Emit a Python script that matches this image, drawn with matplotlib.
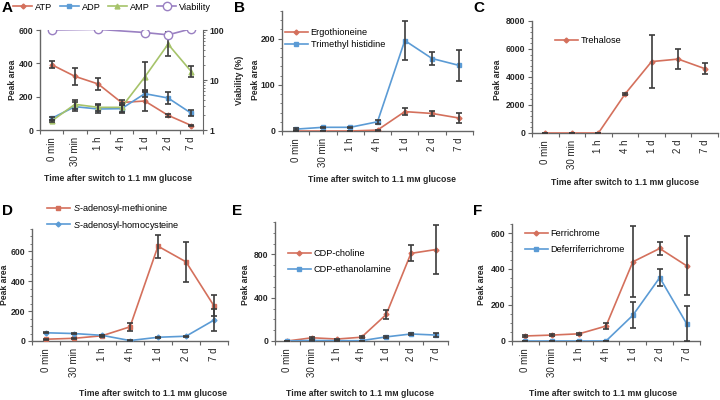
import matplotlib
matplotlib.use("Agg")
import matplotlib.pyplot as plt
from matplotlib.ticker import MultipleLocator, FixedLocator, NullFormatter, LogLocator
import numpy as np

plt.rcParams['font.family'] = ['Liberation Sans', 'DejaVu Sans']
plt.rcParams['font.size'] = 7
plt.rcParams['mathtext.fontset'] = 'custom'
plt.rcParams['mathtext.it'] = 'Liberation Sans:italic'
plt.rcParams['mathtext.rm'] = 'Liberation Sans'

times = ["0 min", "30 min", "1 h", "4 h", "1 d", "2 d", "7 d"]
xlabel_text = "Time after switch to 1.1 mᴍ glucose"

# Panel A
atp = [392, 322, 276, 165, 174, 88, 27]
atp_err = [20, 52, 37, 14, 60, 10, 4]
adp = [70, 140, 126, 128, 218, 192, 100]
adp_err = [9, 26, 22, 25, 20, 38, 18]
amp = [54, 154, 136, 136, 318, 515, 350]
amp_err = [6, 26, 22, 25, 92, 70, 33]
viab_idx = [0, 2, 4, 5, 6]
viability = [100, 103, 89, 80, 106]

# Panel B
ergo = [0, 0, 0, 2, 42, 38, 28]
ergo_err = [0.5, 0.5, 0.5, 1, 8, 6, 10]
tmh = [4, 8, 8, 20, 196, 157, 142]
tmh_err = [1.5, 1.5, 1.5, 4, 43, 15, 34]

# Panel C
trehalose = [0, 0, 0, 2780, 5100, 5280, 4600]
trehalose_err = [20, 20, 20, 80, 1900, 700, 420]

# Panel D
sam = [12, 18, 35, 95, 635, 530, 235]
sam_err = [3, 4, 5, 28, 78, 135, 70]
sah = [55, 50, 38, 3, 25, 32, 140]
sah_err = [4, 4, 4, 1, 3, 4, 75]

# Panel E
cdp_cho = [0, 30, 18, 35, 245, 810, 845]
cdp_cho_err = [3, 8, 5, 10, 45, 75, 230]
cdp_eth = [0, 5, 3, 3, 38, 65, 55]
cdp_eth_err = [1, 2, 1, 1, 6, 8, 15]

# Panel F
ferri = [28, 33, 40, 83, 440, 514, 418]
ferri_err = [4, 6, 7, 15, 198, 36, 163]
deferri = [0, 0, 0, 0, 143, 352, 97]
deferri_err = [1, 1, 1, 1, 72, 47, 96]

red = '#d4705c'
blue = '#5b9bd5'
green = '#a6c36a'
purple = '#9a80c2'
ecol = '#3c3c3c'
axcol = '#666666'
txtcol = '#262626'
fs_xtick = 7
fs_ytick = 6.2
fs_lab = 6.2
fs_leg = 6.6
W, H = 720, 400

fig = plt.figure(figsize=(7.2, 4), dpi=100)


def make_axes(l, r, t, b, ymax, major, minor=None):
    ax = fig.add_axes([l / W, 1 - b / H, (r - l) / W, (b - t) / H])
    ax.set_xlim(-0.5, 6.5)
    ax.set_ylim(0, ymax)
    for s in ['top', 'right']:
        ax.spines[s].set_visible(False)
    for s in ['left', 'bottom']:
        ax.spines[s].set_color(axcol)
        ax.spines[s].set_linewidth(1)
    ax.xaxis.set_major_locator(FixedLocator(np.arange(-0.5, 7, 1)))
    ax.xaxis.set_major_formatter(NullFormatter())
    ax.xaxis.set_minor_locator(FixedLocator(np.arange(7)))
    ax.set_xticklabels(times, minor=True, rotation=90)
    ax.tick_params(axis='x', which='major', length=3, color=axcol, direction='out')
    ax.tick_params(axis='x', which='minor', length=0, pad=5, labelsize=fs_xtick,
                   labelcolor=txtcol)
    ax.yaxis.set_major_locator(MultipleLocator(major))
    if minor:
        ax.yaxis.set_minor_locator(MultipleLocator(minor))
    ax.tick_params(axis='y', which='major', length=3, color=axcol, labelsize=fs_ytick,
                   pad=2, labelcolor=txtcol)
    ax.tick_params(axis='y', which='minor', length=1.5, color=axcol)
    for lab in ax.get_yticklabels():
        lab.set_fontweight('bold')
    return ax


def series(ax, y, err, color, marker, ms, label):
    x = np.arange(len(y))
    ax.errorbar(x, y, yerr=err, fmt='none', ecolor=ecol, elinewidth=1.2,
                capsize=2, capthick=1.2, zorder=4)
    line, = ax.plot(x, y, color=color, marker=marker, ms=ms, lw=1.2,
                    mec=color, mfc=color, label=label, zorder=3)
    return line


def labels(xl_x, xl_y, yl_x, yl_y, letter_x, letter_y, letter):
    fig.text(xl_x / W, 1 - xl_y / H, xlabel_text, ha='center', va='center',
             fontsize=fs_lab, fontweight='bold', color=txtcol)
    fig.text(yl_x / W, 1 - yl_y / H, "Peak area", ha='center', va='center',
             rotation=90, fontsize=fs_lab, fontweight='bold', color=txtcol)
    fig.text(letter_x / W, 1 - letter_y / H, letter, ha='left', va='center',
             fontsize=11, fontweight='bold')


def leg_kw(spacing):
    return dict(frameon=False, handlelength=2.5, handletextpad=0.3, borderpad=0,
                borderaxespad=0, labelspacing=spacing, fontsize=fs_leg,
                bbox_transform=fig.transFigure, loc='upper left')


# A
axA = make_axes(40, 203, 30, 130, 600, 200)
h1 = series(axA, atp, atp_err, red, 'D', 2.5, 'ATP')
h2 = series(axA, adp, adp_err, blue, 's', 3.5, 'ADP')
h3 = series(axA, amp, amp_err, green, '^', 3.5, 'AMP')
axA2 = axA.twinx()
axA2.set_yscale('log')
axA2.set_ylim(1, 100)
axA2.set_xlim(-0.5, 6.5)
h4, = axA2.plot(viab_idx, viability, color=purple, marker='o', ms=6, mfc='white',
                mec=purple, lw=1.2, label='Viability')
for s in ['top', 'left', 'bottom']:
    axA2.spines[s].set_visible(False)
axA2.spines['right'].set_color(axcol)
axA2.yaxis.set_major_locator(FixedLocator([1, 10, 100]))
axA2.set_yticklabels(['1', '10', '100'])
axA2.yaxis.set_minor_locator(LogLocator(subs=np.arange(2, 10)))
axA2.yaxis.set_minor_formatter(NullFormatter())
axA2.tick_params(axis='y', which='major', length=3, color=axcol, labelsize=fs_ytick,
                 pad=2, labelcolor=txtcol)
axA2.tick_params(axis='y', which='minor', length=1.5, color=axcol)
for lab in axA2.get_yticklabels():
    lab.set_fontweight('bold')
fig.text(239 / W, 1 - 80 / H, "Viability (%)", ha='center', va='center',
         rotation=90, fontsize=fs_lab, fontweight='bold', color=txtcol)
fig.legend(handles=[h1, h2, h3, h4], loc='center left', ncol=4,
           bbox_to_anchor=(13 / W, 1 - 7 / H), columnspacing=0.8, frameon=False,
           handlelength=2.1, handletextpad=0.3, borderpad=0, borderaxespad=0,
           fontsize=fs_leg)
labels(118, 178, 13, 80, 2, 8, 'A')

# B
axB = make_axes(282, 473, 11, 131, 260, 100, 20)
series(axB, ergo, ergo_err, red, 'D', 2.5, 'Ergothioneine')
series(axB, tmh, tmh_err, blue, 's', 3.5, 'Trimethyl histidine')
axB.legend(bbox_to_anchor=(285 / W, 1 - 28 / H), **leg_kw(0.3))
labels(382, 180, 255, 80, 234, 8, 'B')

# C
axC = make_axes(532, 718, 21, 133, 8000, 2000, 400)
series(axC, trehalose, trehalose_err, red, 'D', 2.5, 'Trehalose')
axC.legend(bbox_to_anchor=(555 / W, 1 - 36 / H), **leg_kw(0.75))
labels(625, 182, 498, 80, 473, 8, 'C')

# D
axD = make_axes(32, 228, 229, 341, 750, 200, 50)
series(axD, sam, sam_err, red, 's', 3.5, r'$\it{S}$-adenosyl-methionine')
series(axD, sah, sah_err, blue, 'D', 2.5, r'$\it{S}$-adenosyl-homocysteine')
axD.legend(bbox_to_anchor=(47 / W, 1 - 202 / H), **leg_kw(0.4))
labels(153, 394, 5, 285, 2, 211, 'D')

# E
axE = make_axes(275, 448, 222, 341, 1100, 400, 100)
series(axE, cdp_cho, cdp_cho_err, red, 'D', 2.5, 'CDP-choline')
series(axE, cdp_eth, cdp_eth_err, blue, 's', 3.5, 'CDP-ethanolamine')
axE.legend(bbox_to_anchor=(288 / W, 1 - 249 / H), **leg_kw(0.75))
labels(360, 394, 245, 285, 232, 211, 'E')

# F
axF = make_axes(512, 700, 224, 341, 650, 200, 50)
series(axF, ferri, ferri_err, red, 'D', 2.5, 'Ferrichrome')
series(axF, deferri, deferri_err, blue, 's', 3.5, 'Deferriferrichrome')
axF.legend(bbox_to_anchor=(525 / W, 1 - 229 / H), **leg_kw(0.75))
labels(603, 394, 482, 285, 473, 211, 'F')

fig.savefig("out.png", dpi=100)
